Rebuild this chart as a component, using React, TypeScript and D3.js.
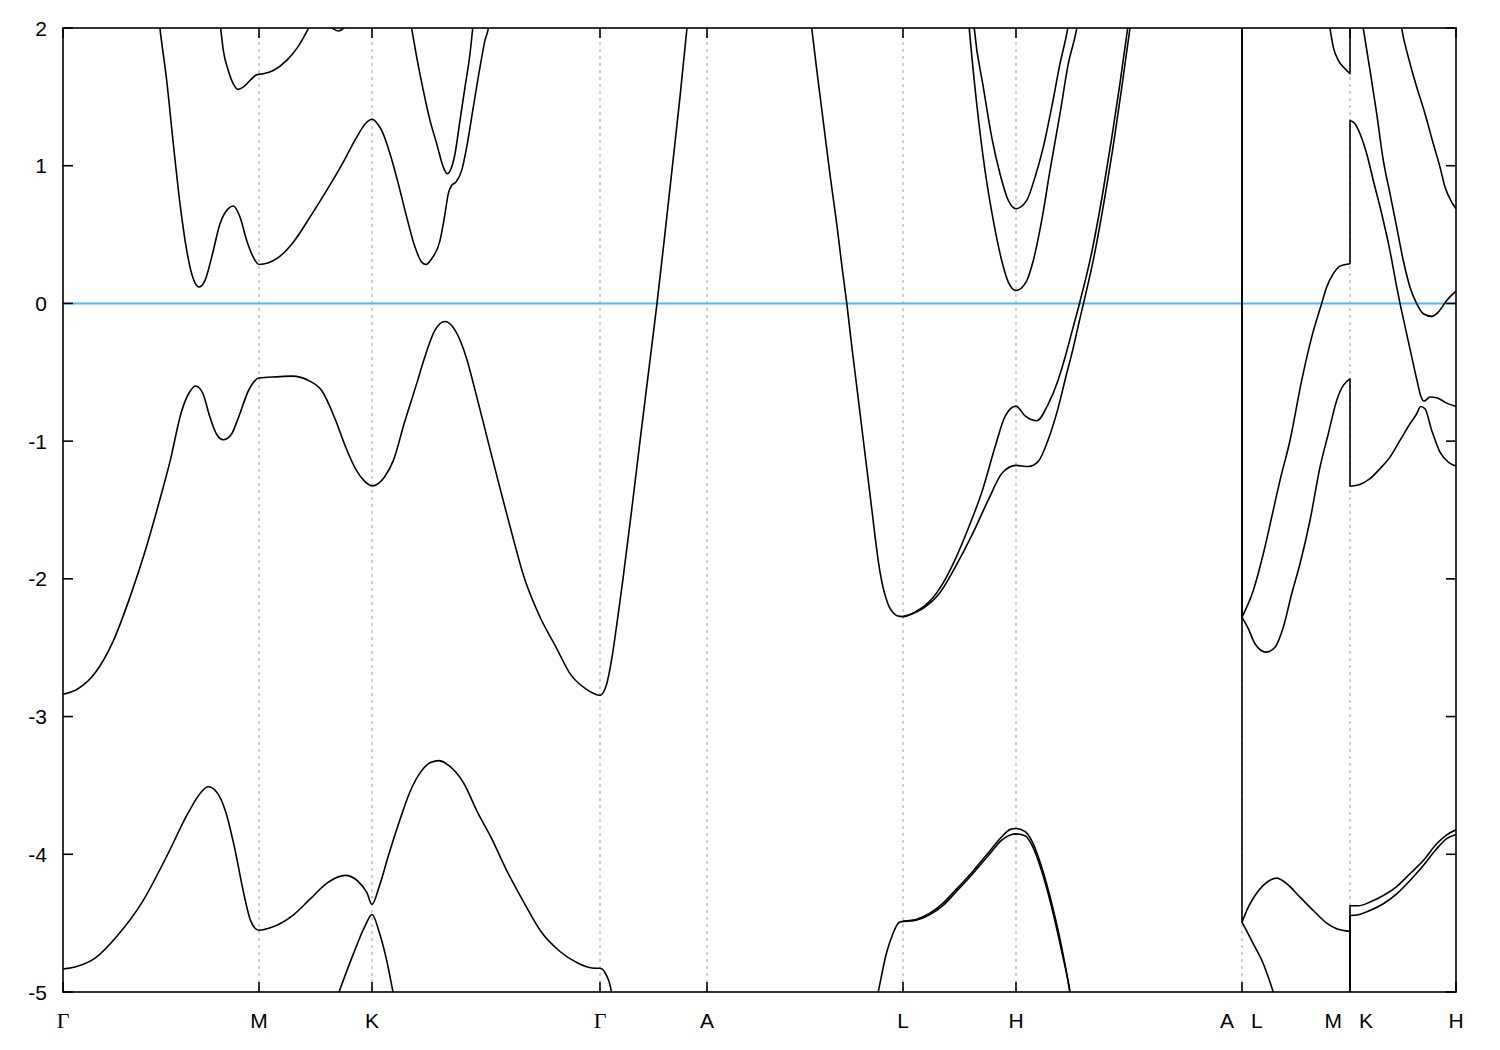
import React from 'react';
import * as d3 from 'd3';

type P = [number, number];

// High-symmetry points along the k-path (path length, arbitrary units)
const symLabels = ['Γ', 'M', 'K', 'Γ', 'A', 'L', 'H', 'A|L', 'M|K', 'H'];
const symK = [0, 1.96, 3.09, 5.37, 6.44, 8.4, 9.53, 11.79, 12.87, 13.93];
const yTicks = [2, 1, 0, -1, -2, -3, -4, -5];
const fermi = 0;

// Bands: [k, E (eV)]
const bandValence: P[] = [[0.0,-2.838],[0.146,-2.80],[0.324,-2.68],[0.503,-2.45],[0.681,-2.109],[0.824,-1.792],[0.967,-1.428],[1.074,-1.136],[1.181,-0.795],[1.271,-0.638],[1.324,-0.600],[1.396,-0.649],[1.467,-0.820],[1.539,-0.954],[1.603,-0.990],[1.681,-0.954],[1.753,-0.832],[1.86,-0.625],[1.96,-0.542],[2.137,-0.533],[2.289,-0.528],[2.467,-0.564],[2.592,-0.638],[2.717,-0.832],[2.824,-1.038],[2.931,-1.209],[3.02,-1.294],[3.09,-1.325],[3.217,-1.258],[3.306,-1.136],[3.413,-0.869],[3.539,-0.577],[3.61,-0.407],[3.72,-0.194],[3.82,-0.131],[3.92,-0.194],[4.039,-0.407],[4.11,-0.60],[4.253,-1.009],[4.36,-1.314],[4.485,-1.66],[4.61,-1.987],[4.771,-2.279],[4.931,-2.497],[5.074,-2.692],[5.235,-2.802],[5.37,-2.845],[5.43,-2.78],[5.49,-2.57],[5.54,-2.32],[5.60,-2.0],[5.69,-1.48],[5.77,-1.00],[5.855,-0.50],[5.94,0.0],[6.02,0.51],[6.09,0.97],[6.17,1.50],[6.24,2.0],[6.27,2.2]];

const bandALH1: P[] = [[7.445,2.25],[7.487,2.0],[7.537,1.70],[7.604,1.315],[7.671,0.930],[7.738,0.574],[7.788,0.278],[7.838,0.0],[7.888,-0.314],[7.939,-0.611],[7.989,-0.908],[8.039,-1.204],[8.089,-1.500],[8.139,-1.797],[8.17,-1.95],[8.20,-2.06],[8.23,-2.14],[8.26,-2.20],[8.30,-2.245],[8.34,-2.268],[8.40,-2.274],[8.532,-2.237],[8.664,-2.165],[8.796,-2.036],[8.928,-1.849],[9.06,-1.620],[9.192,-1.362],[9.324,-1.033],[9.423,-0.817],[9.53,-0.746],[9.621,-0.817],[9.737,-0.852],[9.852,-0.731],[9.95,-0.559],[10.025,-0.38],[10.095,-0.19],[10.165,0.0],[10.287,0.37],[10.397,0.80],[10.487,1.2],[10.57,1.6],[10.647,2.0],[10.69,2.22]];

const bandLH2: P[] = [[8.40,-2.274],[8.598,-2.216],[8.763,-2.107],[8.928,-1.907],[9.093,-1.677],[9.258,-1.419],[9.39,-1.233],[9.53,-1.176],[9.654,-1.184],[9.753,-1.147],[9.852,-0.989],[9.951,-0.760],[10.033,-0.52],[10.10,-0.33],[10.15,-0.17],[10.205,0.0],[10.31,0.34],[10.42,0.78],[10.51,1.18],[10.59,1.58],[10.67,2.0],[10.71,2.2]];

const bandC1: P[] = [[0.93,2.28],[0.97,1.995],[1.037,1.619],[1.103,1.160],[1.17,0.724],[1.237,0.385],[1.303,0.179],[1.36,0.119],[1.42,0.167],[1.487,0.336],[1.57,0.579],[1.653,0.688],[1.703,0.707],[1.77,0.627],[1.837,0.457],[1.903,0.336],[1.96,0.283],[2.137,0.325],[2.303,0.445],[2.47,0.627],[2.637,0.821],[2.803,1.026],[2.937,1.208],[3.03,1.31],[3.09,1.337],[3.15,1.30],[3.187,1.256],[3.27,1.087],[3.353,0.869],[3.437,0.627],[3.52,0.409],[3.587,0.300],[3.63,0.283],[3.687,0.325],[3.77,0.457],[3.82,0.651],[3.853,0.797],[3.887,0.857],[3.93,0.881],[3.987,0.966],[4.037,1.135],[4.103,1.425],[4.17,1.716],[4.22,1.910],[4.253,1.995],[4.29,2.2]];

const bandC2: P[] = [[1.545,2.19],[1.577,1.995],[1.603,1.837],[1.653,1.692],[1.703,1.595],[1.753,1.554],[1.803,1.571],[1.87,1.619],[1.937,1.660],[2.003,1.668],[2.103,1.692],[2.237,1.765],[2.337,1.850],[2.453,1.995],[2.51,2.08]];

const bandC2b: P[] = [[2.65,2.03],[2.70,1.995],[2.753,1.978],[2.80,1.995],[2.84,2.03]];

const bandC3: P[] = [[3.44,2.18],[3.487,1.995],[3.537,1.789],[3.603,1.547],[3.67,1.329],[3.737,1.160],[3.803,0.990],[3.843,0.942],[3.887,0.990],[3.92,1.087],[3.97,1.329],[4.02,1.571],[4.07,1.813],[4.097,1.995],[4.12,2.15]];

const bandLow1: P[] = [[0,-4.833],[0.146,-4.813],[0.324,-4.752],[0.539,-4.595],[0.789,-4.351],[1.039,-4.012],[1.254,-3.696],[1.379,-3.551],[1.45,-3.510],[1.54,-3.551],[1.629,-3.696],[1.719,-3.964],[1.806,-4.279],[1.878,-4.485],[1.96,-4.552],[2.074,-4.534],[2.289,-4.449],[2.467,-4.328],[2.646,-4.206],[2.824,-4.153],[2.949,-4.195],[3.039,-4.279],[3.09,-4.364],[3.164,-4.230],[3.253,-4.012],[3.36,-3.770],[3.467,-3.551],[3.574,-3.405],[3.681,-3.332],[3.76,-3.320],[3.86,-3.357],[4.003,-3.479],[4.146,-3.696],[4.289,-3.890],[4.431,-4.109],[4.61,-4.351],[4.789,-4.570],[4.967,-4.704],[5.146,-4.790],[5.289,-4.826],[5.37,-4.828],[5.431,-4.874],[5.484,-5.0],[5.51,-5.2]];

const bandLow2: P[] = [[2.70,-5.12],[2.76,-5.0],[2.896,-4.738],[3.021,-4.520],[3.09,-4.437],[3.164,-4.570],[3.235,-4.765],[3.30,-5.0],[3.34,-5.15]];

const bandLHlow1: P[] = [[8.12,-5.11],[8.152,-5.0],[8.235,-4.717],[8.301,-4.573],[8.36,-4.495],[8.40,-4.487],[8.532,-4.473],[8.664,-4.430],[8.796,-4.358],[8.928,-4.258],[9.093,-4.128],[9.258,-3.985],[9.39,-3.871],[9.473,-3.819],[9.53,-3.813],[9.621,-3.835],[9.687,-3.90],[9.786,-4.09],[9.885,-4.35],[9.984,-4.665],[10.067,-5.0],[10.09,-5.12]];

const bandLHlow2: P[] = [[8.40,-4.487],[8.532,-4.478],[8.664,-4.44],[8.796,-4.375],[8.928,-4.275],[9.093,-4.145],[9.258,-4.005],[9.39,-3.895],[9.473,-3.86],[9.53,-3.852],[9.621,-3.865],[9.687,-3.93],[9.786,-4.12],[9.885,-4.38],[9.984,-4.695],[10.072,-5.0],[10.095,-5.1]];

const bandLHU1: P[] = [[9.04,2.2],[9.063,1.995],[9.137,1.450],[9.22,0.966],[9.303,0.603],[9.387,0.312],[9.453,0.155],[9.53,0.094],[9.63,0.155],[9.703,0.312],[9.787,0.603],[9.87,0.966],[9.97,1.378],[10.053,1.741],[10.137,1.995],[10.16,2.1]];

const bandLHU2: P[] = [[9.095,2.15],[9.113,1.995],[9.203,1.571],[9.287,1.208],[9.37,0.942],[9.453,0.748],[9.53,0.688],[9.637,0.748],[9.72,0.917],[9.803,1.135],[9.887,1.425],[9.97,1.741],[10.047,1.995],[10.07,2.1]];

const bandAL1: P[] = [[11.79,2.3],[11.79,-2.278],[11.903,-2.084],[12.003,-1.818],[12.087,-1.552],[12.17,-1.285],[12.27,-0.995],[12.387,-0.559],[12.487,-0.245],[12.587,0.0],[12.637,0.119],[12.703,0.216],[12.77,0.271],[12.87,0.288],[12.87,1.329],[12.92,1.305],[12.97,1.232],[13.037,1.087],[13.103,0.893],[13.187,0.651],[13.27,0.38],[13.337,0.12],[13.37,0.0],[13.403,-0.11],[13.47,-0.33],[13.537,-0.55],[13.577,-0.67],[13.61,-0.709],[13.67,-0.680],[13.737,-0.685],[13.837,-0.724],[13.93,-0.748]];

const bandAL2: P[] = [[11.79,-2.278],[11.853,-2.362],[11.92,-2.471],[12.03,-2.532],[12.12,-2.496],[12.203,-2.351],[12.287,-2.108],[12.37,-1.890],[12.47,-1.576],[12.57,-1.189],[12.653,-0.946],[12.737,-0.704],[12.803,-0.595],[12.87,-0.548],[12.87,-1.327],[12.97,-1.314],[13.07,-1.273],[13.17,-1.200],[13.27,-1.116],[13.37,-0.995],[13.47,-0.874],[13.537,-0.801],[13.577,-0.748],[13.62,-0.765],[13.687,-0.922],[13.77,-1.080],[13.853,-1.152],[13.93,-1.181]];

const bandMKtop: P[] = [[12.65,2.08],[12.67,1.995],[12.703,1.861],[12.753,1.765],[12.82,1.704],[12.87,1.668],[12.87,2.3]];

const bandKH3: P[] = [[12.98,2.10],[13.003,1.995],[13.07,1.692],[13.137,1.378],[13.203,1.038],[13.27,0.797],[13.337,0.554],[13.403,0.312],[13.47,0.118],[13.537,-0.002],[13.603,-0.075],[13.687,-0.094],[13.753,-0.063],[13.837,0.022],[13.93,0.089]];

const bandKH4: P[] = [[13.365,2.1],[13.387,1.995],[13.453,1.789],[13.537,1.571],[13.62,1.378],[13.703,1.160],[13.77,0.990],[13.82,0.845],[13.887,0.736],[13.93,0.688]];

const bandALlow: P[] = [[11.79,-4.493],[11.853,-4.384],[11.92,-4.299],[12.003,-4.226],[12.137,-4.173],[12.237,-4.214],[12.37,-4.311],[12.503,-4.408],[12.637,-4.500],[12.737,-4.541],[12.87,-4.560],[12.87,-5.3]];

const bandLdown: P[] = [[11.79,2.3],[11.79,-4.493],[11.903,-4.650],[12.003,-4.795],[12.103,-5.0],[12.13,-5.06]];

const bandKHlow1: P[] = [[12.87,-5.3],[12.87,-4.374],[12.953,-4.374],[13.07,-4.347],[13.203,-4.299],[13.337,-4.234],[13.47,-4.141],[13.603,-4.045],[13.737,-3.924],[13.837,-3.859],[13.93,-3.822]];

const bandKHlow2: P[] = [[12.87,-5.3],[12.87,-4.444],[12.953,-4.439],[13.07,-4.408],[13.203,-4.359],[13.337,-4.287],[13.47,-4.190],[13.603,-4.081],[13.737,-3.960],[13.837,-3.887],[13.93,-3.856]];

const bands: P[][] = [bandValence, bandALH1, bandLH2, bandC1, bandC2, bandC2b, bandC3, bandLow1, bandLow2, bandLHlow1, bandLHlow2, bandLHU1, bandLHU2, bandAL1, bandAL2, bandMKtop, bandKH3, bandKH4, bandALlow, bandLdown, bandKHlow1, bandKHlow2];

const W = 1500, H = 1050;
const L = 63, R = 1456, T = 28, B = 992;
const SANS = '"Liberation Sans", Arial, Helvetica, sans-serif';
const SERIF = '"Liberation Serif", "Times New Roman", serif';

export default function App() {
  const x = d3.scaleLinear().domain([symK[0], symK[symK.length - 1]]).range([L, R]);
  const y = d3.scaleLinear().domain([yTicks[yTicks.length - 1], yTicks[0]]).range([B, T]);
  const line = d3.line<P>().x(d => x(d[0])).y(d => y(d[1])).curve(d3.curveMonotoneX);

  const bandPath = (pts: P[]) => {
    const runs: P[][] = [];
    let cur: P[] = [pts[0]];
    for (let i = 1; i < pts.length; i++) {
      if (pts[i][0] === pts[i - 1][0]) { runs.push(cur); cur = [pts[i]]; }
      else cur.push(pts[i]);
    }
    runs.push(cur);
    return runs.map((r, i) => {
      let s = r.length > 1 ? (line(r) as string) : `M${x(r[0][0])},${y(r[0][1])}`;
      if (i > 0) s = 'L' + s.slice(1);
      return s;
    }).join('');
  };

  const fs = 21;
  return (
    <svg width={W} height={H} style={{ position: 'absolute', left: 0, top: 0, display: 'block', background: '#fff' }}>
      <defs>
        <clipPath id="plotclip"><rect x={L} y={T} width={R - L} height={B - T} /></clipPath>
      </defs>
      <rect x={0} y={0} width={W} height={H} fill="#fff" />
      {symK.slice(1, -1).map((k, i) => (
        <line key={'g' + i} x1={x(k)} x2={x(k)} y1={T} y2={B} stroke="#a0a0a0" strokeWidth={1} strokeDasharray="3,4" />
      ))}
      <line x1={L} x2={R} y1={y(fermi)} y2={y(fermi)} stroke="#56b4e9" strokeWidth={2} />
      <g clipPath="url(#plotclip)">
        {bands.map((b, i) => (
          <path key={'b' + i} d={bandPath(b)} fill="none" stroke="#000" strokeWidth={1.6} strokeLinejoin="round" />
        ))}
      </g>
      <rect x={L} y={T} width={R - L} height={B - T} fill="none" stroke="#000" strokeWidth={1.6} />
      {symK.map((k, i) => (
        <g key={'xt' + i}>
          <line x1={x(k)} x2={x(k)} y1={B} y2={B - 10} stroke="#000" strokeWidth={1.6} />
          <line x1={x(k)} x2={x(k)} y1={T} y2={T + 10} stroke="#000" strokeWidth={1.6} />
        </g>
      ))}
      {yTicks.map((v, i) => (
        <g key={'yt' + i}>
          <line x1={L} x2={L + 10} y1={y(v)} y2={y(v)} stroke="#000" strokeWidth={1.6} />
          <line x1={R - 10} x2={R} y1={y(v)} y2={y(v)} stroke="#000" strokeWidth={1.6} />
          <text x={47} y={y(v) + 7.5} textAnchor="end" fontFamily={SANS} fontSize={fs} fill="#000">{String(v)}</text>
        </g>
      ))}
      {symLabels.map((lab, i) => {
        const px = x(symK[i]);
        const fam = (s: string) => (s === 'Γ' ? SERIF : SANS);
        if (lab.includes('|')) {
          const [a, b] = lab.split('|');
          return (
            <g key={'xl' + i}>
              <text x={px - 8} y={1028} textAnchor="end" fontFamily={fam(a)} fontSize={fs}>{a}</text>
              <text x={px + 9} y={1028} textAnchor="start" fontFamily={fam(b)} fontSize={fs}>{b}</text>
            </g>
          );
        }
        return (
          <text key={'xl' + i} x={px} y={1028} textAnchor="middle" fontFamily={fam(lab)} fontSize={lab === 'Γ' ? 22 : fs}>{lab}</text>
        );
      })}
    </svg>
  );
}
